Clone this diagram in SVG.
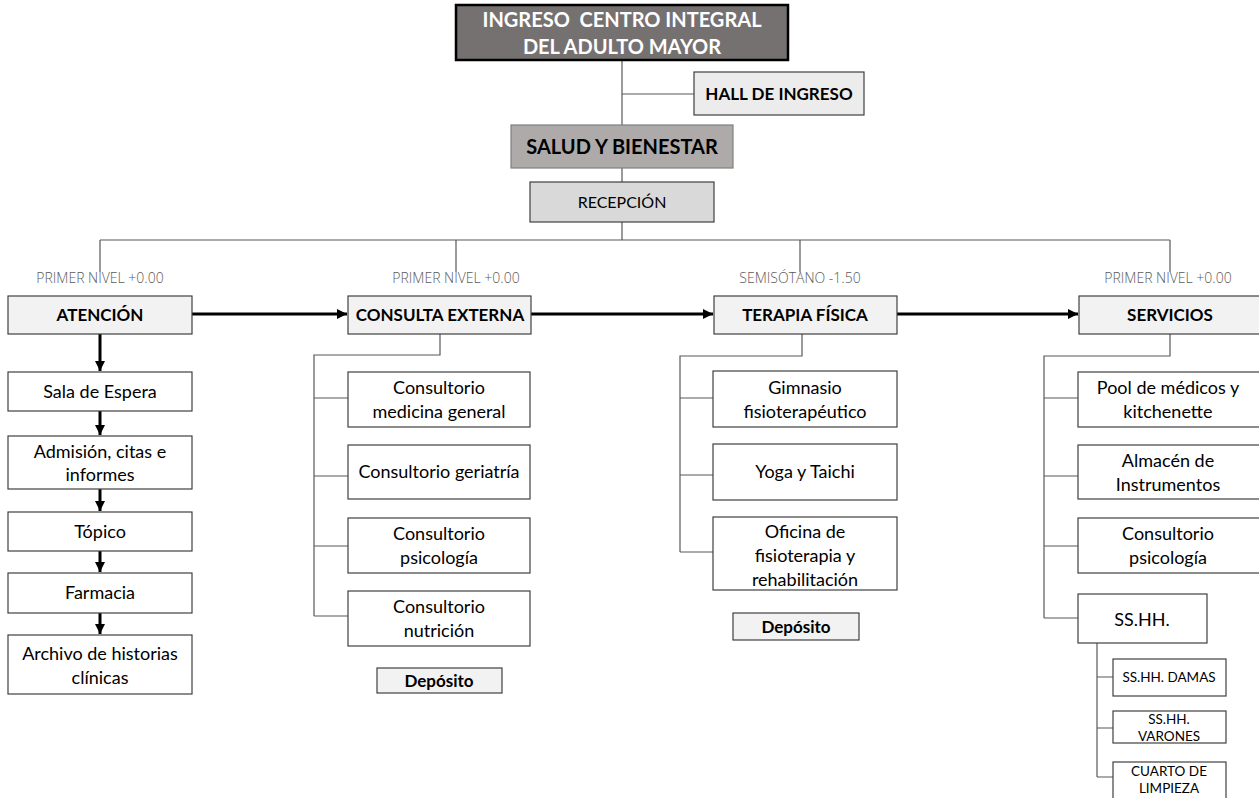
<svg xmlns="http://www.w3.org/2000/svg" width="1259" height="798" viewBox="0 0 1259 798">
<defs>
<marker id="ah" viewBox="0 0 10 10" refX="10" refY="5" markerWidth="10" markerHeight="10" markerUnits="userSpaceOnUse" orient="auto">
<path d="M0,0 L10,5 L0,10 z" fill="#000"/>
</marker>
<style>
.box{fill:#fff;stroke:#404040;stroke-width:1.2}
.lvl{fill:#f2f2f2;stroke:#404040;stroke-width:1.2}
.t{font-family:Lato,"Liberation Sans",sans-serif;font-size:18px;fill:#000;text-anchor:middle}
.b{font-weight:bold;font-size:17px}
.s{font-size:13.5px}
.lab{font-family:"Open Sans","Liberation Sans",sans-serif;font-weight:300;font-size:14px;fill:#595959;text-anchor:middle}
.ln{fill:none;stroke:#595959;stroke-width:1.2}
.ar{fill:none;stroke:#000;stroke-width:3;marker-end:url(#ah)}
</style>
</defs>
<rect width="1259" height="798" fill="#fff"/>

<g id="connectors">
<path class="ln" d="M622,60 V125 M622,94 H694 M622,168 V182 M622,222 V240 M100,240 H1170 M100,240 V272 M456,240 V272 M800,240 V272 M1170,240 V272"/>
<path class="ar" d="M192,314 H347"/>
<path class="ar" d="M531,314 H713"/>
<path class="ar" d="M897,314 H1078"/>
<path class="ar" d="M100,334 V371"/>
<path class="ar" d="M100,411 V435"/>
<path class="ar" d="M100,489 V511"/>
<path class="ar" d="M100,551 V572"/>
<path class="ar" d="M100,613 V634"/>
<path class="ln" d="M440,334 V355 H314 V616 M314,398 H348 M314,476 H348 M314,546 H348 M314,616 H348"/>
<path class="ln" d="M802,334 V356 H680 V552 M680,398 H713 M680,475 H713 M680,552 H713"/>
<path class="ln" d="M1170,334 V356 H1044 V618 M1044,398 H1078 M1044,476 H1078 M1044,546 H1078 M1044,618 H1078"/>
<path class="ln" d="M1097,643 V777 M1097,677 H1113 M1097,728 H1113 M1097,777 H1113"/>
</g>

<g id="n-ingreso">
<rect x="456" y="5" width="332" height="55" fill="#767171" stroke="#000" stroke-width="2.5"/>
<text class="t b" x="622" y="27" style="font-size:20px;fill:#fff" xml:space="preserve">INGRESO  CENTRO INTEGRAL</text>
<text class="t b" x="622" y="54" style="font-size:20px;fill:#fff">DEL ADULTO MAYOR</text>
</g>
<g id="n-hall">
<rect x="694" y="72" width="170" height="43" fill="#ececec" stroke="#404040" stroke-width="1.2"/>
<text class="t b" x="779" y="100">HALL DE INGRESO</text>
</g>
<g id="n-salud">
<rect x="511" y="125" width="222" height="43" fill="#aeaaaa" stroke="#7f7f7f" stroke-width="1.2"/>
<text class="t b" x="622" y="154" style="font-size:20px">SALUD Y BIENESTAR</text>
</g>
<g id="n-recepcion">
<rect x="530" y="182" width="184" height="40" fill="#d9d9d9" stroke="#404040" stroke-width="1.2"/>
<text class="t" x="622" y="208" style="font-size:16px">RECEPCIÓN</text>
</g>

<g id="labels">
<text class="lab" x="100" y="283">PRIMER NIVEL +0.00</text>
<text class="lab" x="456" y="283">PRIMER NIVEL +0.00</text>
<text class="lab" x="800" y="283">SEMISÓTANO -1.50</text>
<text class="lab" x="1168" y="283">PRIMER NIVEL +0.00</text>
</g>

<g id="n-atencion"><rect class="lvl" x="8" y="296" width="184" height="38"/><text class="t b" x="100" y="321">ATENCIÓN</text></g>
<g id="n-consulta"><rect class="lvl" x="348" y="296" width="183" height="38"/><text class="t b" x="440" y="321">CONSULTA EXTERNA</text></g>
<g id="n-terapia"><rect class="lvl" x="714" y="296" width="183" height="38"/><text class="t b" x="805" y="321">TERAPIA FÍSICA</text></g>
<g id="n-servicios"><rect class="lvl" x="1079" y="296" width="184" height="38"/><text class="t b" x="1170" y="321">SERVICIOS</text></g>

<g id="n-sala"><rect class="box" x="8" y="372" width="184" height="39"/><text class="t" x="100" y="398">Sala de Espera</text></g>
<g id="n-admision"><rect class="box" x="8" y="436" width="184" height="53"/><text class="t" x="100" y="458">Admisión, citas e</text><text class="t" x="100" y="481">informes</text></g>
<g id="n-topico"><rect class="box" x="8" y="512" width="184" height="39"/><text class="t" x="100" y="538">Tópico</text></g>
<g id="n-farmacia"><rect class="box" x="8" y="573" width="184" height="40"/><text class="t" x="100" y="599">Farmacia</text></g>
<g id="n-archivo"><rect class="box" x="8" y="635" width="184" height="59"/><text class="t" x="100" y="660">Archivo de historias</text><text class="t" x="100" y="684">clínicas</text></g>

<g id="n-cmg"><rect class="box" x="348" y="372" width="182" height="55"/><text class="t" x="439" y="394">Consultorio</text><text class="t" x="439" y="418">medicina general</text></g>
<g id="n-cger"><rect class="box" x="348" y="445" width="182" height="54"/><text class="t" x="439" y="478">Consultorio geriatría</text></g>
<g id="n-cpsi"><rect class="box" x="348" y="518" width="182" height="55"/><text class="t" x="439" y="540">Consultorio</text><text class="t" x="439" y="564">psicología</text></g>
<g id="n-cnut"><rect class="box" x="348" y="591" width="182" height="55"/><text class="t" x="439" y="613">Consultorio</text><text class="t" x="439" y="637">nutrición</text></g>
<g id="n-dep1"><rect class="lvl" x="377" y="668" width="125" height="25"/><text class="t b" x="439" y="687">Depósito</text></g>

<g id="n-gim"><rect class="box" x="713" y="371" width="184" height="56"/><text class="t" x="805" y="394">Gimnasio</text><text class="t" x="805" y="418">fisioterapéutico</text></g>
<g id="n-yoga"><rect class="box" x="713" y="444" width="184" height="56"/><text class="t" x="805" y="478">Yoga y Taichi</text></g>
<g id="n-ofi"><rect class="box" x="713" y="517" width="184" height="73"/><text class="t" x="805" y="538">Oficina de</text><text class="t" x="805" y="562">fisioterapia y</text><text class="t" x="805" y="586">rehabilitación</text></g>
<g id="n-dep2"><rect class="lvl" x="733" y="613" width="126" height="27"/><text class="t b" x="796" y="633">Depósito</text></g>

<g id="n-pool"><rect class="box" x="1078" y="372" width="185" height="55"/><text class="t" x="1168" y="394">Pool de médicos y</text><text class="t" x="1168" y="418">kitchenette</text></g>
<g id="n-alm"><rect class="box" x="1078" y="445" width="185" height="54"/><text class="t" x="1168" y="467">Almacén de</text><text class="t" x="1168" y="491">Instrumentos</text></g>
<g id="n-spsi"><rect class="box" x="1078" y="518" width="185" height="55"/><text class="t" x="1168" y="540">Consultorio</text><text class="t" x="1168" y="564">psicología</text></g>
<g id="n-sshh"><rect class="box" x="1078" y="594" width="129" height="49"/><text class="t" x="1142" y="626">SS.HH.</text></g>

<g id="n-damas"><rect class="box" x="1113" y="659" width="113" height="37"/><text class="t s" x="1169" y="682">SS.HH. DAMAS</text></g>
<g id="n-varones"><rect class="box" x="1113" y="711" width="113" height="32"/><text class="t s" x="1169" y="724">SS.HH.</text><text class="t s" x="1169" y="741">VARONES</text></g>
<g id="n-limpieza"><rect class="box" x="1113" y="762" width="113" height="40"/><text class="t s" x="1169" y="776">CUARTO DE</text><text class="t s" x="1169" y="793">LIMPIEZA</text></g>
</svg>
